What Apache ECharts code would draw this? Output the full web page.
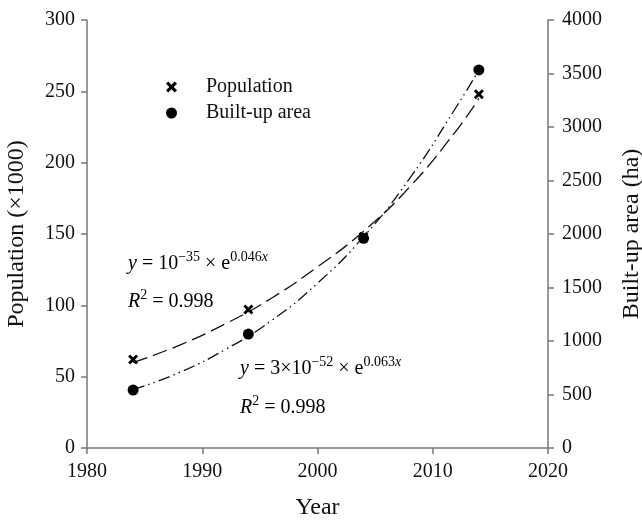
<!DOCTYPE html>
<html>
<head>
<meta charset="utf-8">
<script src="https://cdn.jsdelivr.net/npm/echarts@6/dist/echarts.min.js"></script>
<style>
html,body{margin:0;padding:0;background:#fff;}
#container{width:642px;height:523px;}
</style>
</head>
<body>
<div id="container"></div>
<script>
// observed points
var years = [1984, 1994, 2004, 2014];
var population = [62, 97, 148, 248];        // x1000
var builtUp = [541, 1065, 1960, 3533];      // ha

// fitted curves
var fitYears = [1984, 1988, 1992, 1996, 2000, 2004, 2008, 2012, 2014];
var popFit = [60, 72, 87, 105, 127, 152, 183, 222, 245];
var areaFit = [545, 705, 920, 1190, 1540, 1975, 2520, 3180, 3530];

var xTicks = [1980, 1990, 2000, 2010, 2020];

function pairs(xs, ys){
	var out = [];
	for (var i = 0; i < xs.length; ++i) out.push([xs[i], ys[i]]);
	return out;
}

var FONT = '"Liberation Serif", "DejaVu Serif", serif';
var crossPath = 'path://M0,2L2,0L5,3L8,0L10,2L7,5L10,8L8,10L5,7L2,10L0,8L3,5Z';
var axisGray = '#777';

var myChart = echarts.init(document.getElementById('container'));
var eqRich = {
	i: {fontFamily: FONT, fontSize: 20, fontStyle: 'italic', color: '#111'},
	n: {fontFamily: FONT, fontSize: 20, color: '#111'},
	sup: {fontFamily: FONT, fontSize: 14, color: '#111', padding: [0, 0, 13, 0]},
	supi: {fontFamily: FONT, fontSize: 14, fontStyle: 'italic', color: '#111', padding: [0, 0, 13, 0]}
};

option = {
	animation: false,
	backgroundColor: '#fff',
	grid: {left: 87, right: 94, top: 20, bottom: 75, outerBoundsMode: 'none'},
	legend: {
		orient: 'vertical',
		left: 161,
		top: 72,
		itemWidth: 11,
		itemHeight: 11,
		itemGap: 6,
		data: ['Population', 'Built-up area'],
		textStyle: {fontFamily: FONT, fontSize: 20, color: '#111', padding: [0, 0, 0, 24]}
	},
	xAxis: {
		type: 'value',
		min: 1980,
		max: 2020,
		interval: 10,
		name: 'Year',
		nameLocation: 'middle',
		nameGap: 48,
		nameTextStyle: {fontFamily: FONT, fontSize: 24, color: '#111'},
		axisLine: {lineStyle: {color: axisGray, width: 1.5}},
		axisTick: {length: 6, lineStyle: {color: axisGray, width: 1.5}},
		axisLabel: {fontFamily: FONT, fontSize: 20, color: '#111', margin: 14,
			formatter: function(v){ return xTicks.indexOf(v) >= 0 ? String(v) : ''; }},
		splitLine: {show: false}
	},
	yAxis: [
		{
			type: 'value',
			min: 0,
			max: 300,
			interval: 50,
			name: 'Population (\u00d71000)',
			nameLocation: 'middle',
			nameGap: 58,
			nameTextStyle: {fontFamily: FONT, fontSize: 24, color: '#111'},
			axisLine: {show: true, lineStyle: {color: axisGray, width: 1.5}},
			axisTick: {show: true, length: 6, lineStyle: {color: axisGray, width: 1.5}},
			axisLabel: {fontFamily: FONT, fontSize: 20, color: '#111', margin: 12},
			splitLine: {show: false}
		},
		{
			type: 'value',
			min: 0,
			max: 4000,
			interval: 500,
			position: 'right',
			name: 'Built-up area (ha)',
			nameLocation: 'middle',
			nameGap: 72,
			nameRotate: 90,
			nameTextStyle: {fontFamily: FONT, fontSize: 24, color: '#111'},
			axisLine: {show: true, lineStyle: {color: axisGray, width: 1.5}},
			axisTick: {show: true, length: 6, lineStyle: {color: axisGray, width: 1.5}},
			axisLabel: {fontFamily: FONT, fontSize: 20, color: '#111', margin: 14,
				formatter: function(v){ return String(v); }},
			splitLine: {show: false}
		}
	],
	series: [
		{
			name: 'Population fit',
			type: 'line',
			smooth: true,
			symbol: 'none',
			data: pairs(fitYears, popFit),
			lineStyle: {color: '#111', width: 1.3, type: [15, 6]},
			z: 2
		},
		{
			name: 'Built-up fit',
			type: 'line',
			yAxisIndex: 1,
			smooth: true,
			symbol: 'none',
			data: pairs(fitYears, areaFit),
			lineStyle: {color: '#111', width: 1.3, type: [12, 4, 1.5, 4, 1.5, 4]},
			z: 2
		},
		{
			name: 'Population',
			type: 'scatter',
			symbol: crossPath,
			symbolSize: 10,
			data: pairs(years, population),
			itemStyle: {color: '#000', opacity: 1},
			z: 3
		},
		{
			name: 'Built-up area',
			type: 'scatter',
			yAxisIndex: 1,
			symbol: 'circle',
			symbolSize: 11,
			data: pairs(years, builtUp),
			itemStyle: {color: '#000', opacity: 1},
			z: 3
		}
	],
	graphic: [
		{type: 'text', left: 128, top: 250, style: {
			text: '{i|y}{n| = 10}{sup|\u221235}{n| \u00d7 e}{sup|0.046}{supi|x}', rich: eqRich}},
		{type: 'text', left: 128, top: 288, style: {
			text: '{i|R}{sup|2}{n| = 0.998}', rich: eqRich}},
		{type: 'text', left: 240, top: 355, style: {
			text: '{i|y}{n| = 3\u00d710}{sup|\u221252}{n| \u00d7 e}{sup|0.063}{supi|x}', rich: eqRich}},
		{type: 'text', left: 240, top: 394, style: {
			text: '{i|R}{sup|2}{n| = 0.998}', rich: eqRich}}
	]
};
myChart.setOption(option);
</script>
</body>
</html>
